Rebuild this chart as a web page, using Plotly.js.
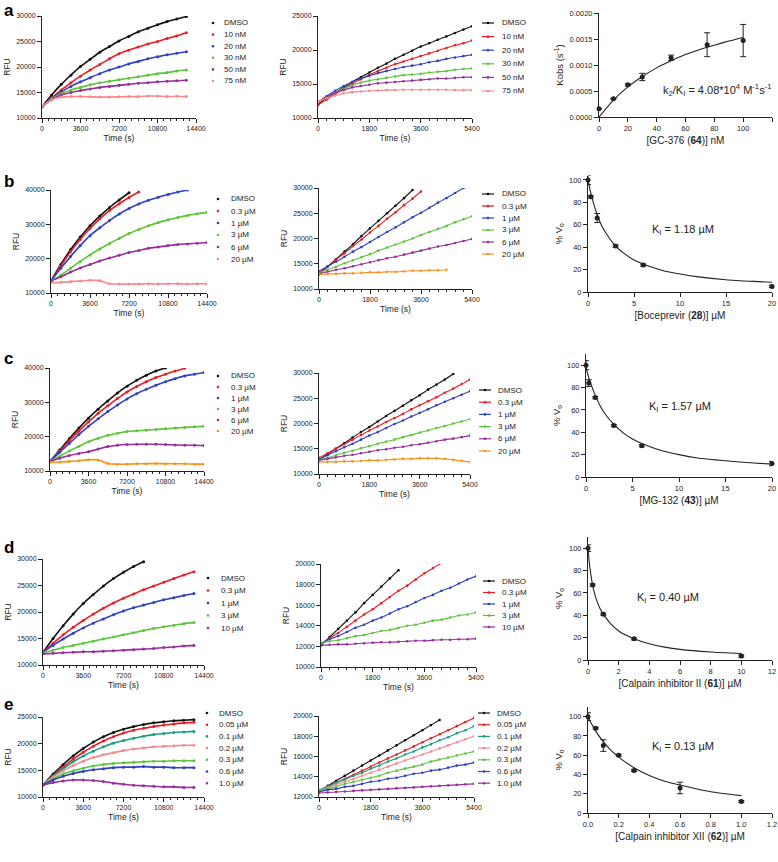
<!DOCTYPE html>
<html><head><meta charset="utf-8">
<script src="https://cdn.plot.ly/plotly-3.0.1.min.js"></script>
<style>body{margin:0;background:#fff}#chart{width:778px;height:862px}</style>
</head><body><div id="chart"></div>
<script>
const W=778,H=862;
const F='Liberation Sans, Arial, Helvetica, sans-serif';
const TXT='#222';

// ---------- time grids (s) ----------
const tLong=[0,900,1800,2700,3600,4500,5400,6300,7200,8100,9000,9900,10800,11700,12600,13500,14400];
const tShort=[0,300,600,900,1200,1500,1800,2100,2400,2700,3000,3300,3600,3900,4200,4500,4800,5100,5400];

// ---------- labels ----------
const aLabels=['DMSO','10 nM','20 nM','30 nM','50 nM','75 nM'];
const bLabels=['DMSO','0.3 µM','1 µM','3 µM','6 µM','20 µM'];
const dLabels=['DMSO','0.3 µM','1 µM','3 µM','10 µM'];
const eLabels=['DMSO','0.05 µM','0.1 µM','0.2 µM','0.3 µM','0.6 µM','1.0 µM'];

// ---------- colours ----------
const cBlack='#111111',cRed='#ea1c24',cBlue='#3040c4',cGreen='#5cc43a',cPurple='#9a2c9e',cPink='#f48a90',cOrange='#f7941e',cTeal='#16a07c';

// ---------- row a ----------
const aL_DMSO=[12200,14500,16600,18400,20100,21500,22900,24000,25100,26000,26900,27600,28300,28900,29400,29900];
const aL_10=[12200,13900,15500,16900,18200,19400,20500,21600,22600,23300,23900,24500,25000,25600,26100,26700];
const aL_20=[12200,13800,15100,16200,17100,17900,18700,19400,20000,20600,21100,21600,22000,22400,22700,23000];
const aL_30=[12200,13700,14800,15500,16000,16500,16900,17200,17500,17800,18100,18400,18700,18900,19200,19400];
const aL_50=[12200,13600,14500,15000,15400,15700,16000,16200,16400,16600,16800,16900,17100,17200,17300,17400];
const aL_75=[12200,13600,14100,14200,14200,14150,14100,14100,14150,14200,14200,14300,14300,14200,14250,14200];

const aM_DMSO=[12000,12900,13700,14500,15300,16000,16700,17400,18000,18700,19300,19900,20500,21000,21500,22000,22500,23000,23500];
const aM_10=[11900,12700,13500,14300,15000,15700,16400,16900,17400,17900,18300,18700,19100,19500,19900,20300,20700,21000,21400];
const aM_20=[12300,13200,14000,14700,15300,15800,16200,16600,16900,17200,17500,17700,17900,18200,18400,18700,18900,19100,19300];
const aM_30=[12300,13000,13700,14300,14800,15200,15500,15700,15900,16100,16300,16400,16500,16700,16800,16900,17100,17200,17300];
const aM_50=[12400,13100,13700,14100,14500,14700,14900,15100,15200,15300,15400,15500,15600,15700,15800,15800,15900,16000,16000];
const aM_75=[12400,12900,13300,13600,13800,13900,14000,14050,14100,14100,14150,14150,14150,14150,14150,14150,14100,14100,14100];

const aR_conc=[0,10,20,30,50,75,100];
const aR_kobs=[0.00016,0.00035,0.00062,0.00077,0.00114,0.00139,0.00147];
const aR_err=[0,0,0.00002,0.00007,0.00005,0.00023,0.00031];
const aR_fitX=[0,10,20,30,40,50,60,70,80,90,100];
const aR_fitY=[0,0.000325,0.000578,0.00078,0.000945,0.00108,0.0012,0.0013,0.00138,0.00146,0.00153];

// ---------- row b ----------
const bL_DMSO=[13500,18300,22600,26300,29600,32400,34900,37100,39200];
const bL_03=[13500,17900,22000,25600,28800,31600,34000,36000,37800,39400];
const bL_1=[13500,17200,20600,23800,26700,29000,31100,33000,34600,35900,37000,37900,38700,39400,40000];
const bL_3=[13500,15200,17200,19200,21100,22800,24400,25900,27300,28500,29600,30500,31300,32000,32600,33100,33500];
const bL_6=[13500,14700,16100,17300,18300,19300,20200,21000,21800,22400,23000,23400,23800,24100,24300,24500,24700];
const bL_20=[13000,13100,13300,13500,13700,13600,12700,12600,12600,12600,12700,12600,12700,12700,12600,12700,12700];

const bM_DMSO=[12900,14400,15900,17400,18900,20500,22000,23500,25000,26500,28000,29600];
const bM_03=[13100,14400,15800,17100,18500,19800,21200,22500,23900,25200,26600,27900,29300];
const bM_1=[13500,14500,15400,16400,17400,18300,19300,20300,21300,22200,23200,24200,25100,26100,27100,28000,29000,30000];
const bM_3=[13200,13800,14400,15100,15700,16300,16900,17600,18200,18800,19400,20000,20700,21300,21900,22500,23200,23800,24400];
const bM_6=[13000,13400,13800,14100,14500,14900,15300,15700,16100,16400,16800,17200,17600,18000,18400,18700,19100,19500,19900];
const bM_20=[12900,13000,13000,13100,13100,13200,13300,13300,13400,13400,13500,13600,13600,13700,13700,13800];

const bR_conc=[0,0.3,1,3,6,20];
const bR_v=[100,85,66,41,24,5];
const bR_err=[4,1,4,1,1,1];
const bR_fitX=[0,0.25,0.5,1,1.5,2,3,4,5,6,8,10,12,15,18,20];
const bR_fitY=[100,90,82,69,59,52,41,34,28.5,25,19.5,16,13.5,11,9.5,8.7];

// ---------- row c ----------
const cL_DMSO=[12800,16100,19400,22500,25400,28000,30400,32700,34700,36400,37900,39100,40000];
const cL_03=[12800,15800,18800,21600,24300,26800,29000,31100,33000,34600,36000,37200,38200,39100,39900];
const cL_1=[12800,15400,18000,20600,23000,25200,27300,29200,31000,32500,33800,35000,36000,36900,37700,38200,38700];
const cL_3=[12800,14300,15800,17200,18500,19500,20400,21000,21500,21700,21900,22100,22300,22500,22700,22900,23000];
const cL_6=[12800,13700,14500,15100,15600,16400,17100,17500,17700,17800,17800,17800,17700,17600,17500,17500,17400];
const cL_20=[12500,12600,12800,13000,13300,13200,12200,12000,12000,12100,12100,12200,12100,12100,12100,12000,12000];

const cM_DMSO=[12800,13900,15000,16100,17200,18300,19300,20400,21500,22500,23500,24600,25600,26700,27700,28700,29800];
const cM_03=[13200,14100,15000,15900,16800,17700,18600,19400,20300,21100,21900,22800,23600,24400,25200,26100,26900,27800,28700];
const cM_1=[12900,13700,14500,15300,16000,16800,17600,18300,19100,19900,20600,21400,22100,22800,23600,24300,25000,25700,26400];
const cM_3=[12800,13200,13700,14200,14600,15100,15500,16000,16400,16800,17300,17700,18200,18600,19100,19500,20000,20400,20900];
const cM_6=[12700,13000,13300,13600,13800,14100,14400,14700,14900,15200,15400,15700,15900,16200,16500,16800,17000,17300,17600];
const cM_20=[12400,12400,12400,12500,12500,12600,12700,12700,12800,12900,13000,13000,13100,13100,13100,13000,12800,12600,12400];

const cR_conc=[0,0.3,1,3,6,20];
const cR_v=[100,84,71,46,28,12];
const cR_err=[4,3,1,1,1,2];
const cR_fitX=[0,0.25,0.5,1,1.5,2,3,4,5,6,8,10,12,15,18,20];
const cR_fitY=[98,90,84,73,64,57,47,39.5,34,30,24,20,17,14.5,12.5,11.5];

// ---------- row d ----------
const dL_DMSO=[12400,15000,17400,19600,21600,23300,24900,26300,27500,28600,29500];
const dL_03=[12400,14100,15700,17100,18400,19600,20700,21700,22600,23400,24200,24900,25600,26300,27000,27600];
const dL_1=[12400,13700,14900,16000,17000,17900,18700,19500,20200,20800,21300,21800,22300,22700,23100,23500];
const dL_3=[12300,12800,13300,13700,14100,14500,14900,15300,15700,16100,16500,16900,17200,17500,17800,18000];
const dL_10=[12100,12200,12300,12400,12500,12500,12600,12700,12800,12900,13000,13100,13300,13400,13600,13700];

const dM_DMSO=[12100,12900,13700,14500,15300,16200,17000,17800,18600,19400];
const dM_03=[12200,12800,13300,13900,14500,15100,15600,16200,16800,17400,17900,18500,19100,19600,20100];
const dM_1=[12300,12700,13000,13400,13800,14100,14500,14800,15200,15600,15900,16300,16700,17000,17400,17700,18100,18500,18800];
const dM_3=[12300,12500,12600,12800,13000,13100,13300,13500,13600,13800,14000,14100,14300,14500,14600,14800,15000,15100,15300];
const dM_10=[12100,12150,12200,12200,12250,12300,12350,12400,12400,12450,12500,12550,12550,12600,12650,12650,12700,12700,12750];

const dR_conc=[0,0.3,1,3,10];
const dR_v=[100,67,41,19,3.5];
const dR_err=[3,1,1,1,1];
const dR_fitX=[0,0.1,0.2,0.3,0.5,0.75,1,1.5,2,3,4,5,6,8,10];
const dR_fitY=[100,85,75,67,56,47,41,32,26,19,14.5,11.5,9.5,7.2,5.8];

// ---------- row e ----------
const eL_DMSO=[12300,14300,16100,17700,19100,20300,21300,22100,22700,23200,23600,23900,24100,24300,24400,24500];
const eL_005=[12300,14000,15600,17100,18400,19500,20500,21300,22000,22500,22900,23200,23500,23700,23900,24000];
const eL_01=[12300,13900,15300,16600,17700,18600,19400,20100,20600,21000,21400,21700,21900,22100,22200,22300];
const eL_02=[12300,13700,14900,15900,16700,17400,17900,18300,18700,19000,19200,19400,19500,19600,19700,19700];
const eL_03=[12300,13400,14300,14900,15400,15800,16100,16300,16400,16500,16600,16700,16700,16800,16800,16800];
const eL_06=[12300,13200,13900,14400,14800,15100,15300,15500,15600,15600,15700,15600,15600,15500,15500,15500];
const eL_10=[12300,12700,13000,13200,13200,13100,12900,12600,12400,12200,12100,12000,11900,11900,11800,11800];

const eM_DMSO=[12600,13100,13600,14100,14600,15100,15600,16100,16600,17100,17600,18100,18600,19100,19600];
const eM_005=[12600,13000,13400,13800,14200,14600,15000,15400,15800,16200,16600,17000,17400,17800,18200,18600,19000,19400,19800];
const eM_01=[12700,13000,13400,13700,14100,14400,14800,15100,15500,15800,16200,16500,16900,17200,17600,17900,18300,18600,19000];
const eM_02=[12600,12900,13200,13500,13800,14100,14400,14700,15000,15300,15600,15900,16200,16500,16800,17100,17400,17700,18000];
const eM_03=[12600,12800,13000,13300,13500,13700,13900,14100,14400,14600,14800,15000,15200,15500,15700,15900,16100,16300,16500];
const eM_06=[12500,12700,12800,13000,13100,13300,13500,13600,13800,13900,14100,14300,14400,14600,14700,14900,15100,15200,15400];
const eM_10=[12400,12450,12500,12550,12600,12650,12700,12750,12800,12850,12900,12950,13000,13050,13100,13150,13200,13250,13300];

const eR_conc=[0,0.05,0.1,0.2,0.3,0.6,1.0];
const eR_v=[100,88,70,60,44,26,12];
const eR_err=[4,1,6,1,1,6,1];
const eR_fitX=[0,0.025,0.05,0.1,0.15,0.2,0.3,0.4,0.5,0.6,0.8,1.0];
const eR_fitY=[100,92,85,74,65,58,47,39,33,29,22,18];

// ================= building =================
const traces=[],shapes=[],ann=[];
const layout={width:W,height:H,margin:{l:0,r:0,t:0,b:0},paper_bgcolor:'#fff',plot_bgcolor:'rgba(0,0,0,0)',
  showlegend:false,font:{family:F,color:TXT,size:9},hovermode:false};
let n=0;
function px(x){return x/W;} function py(y){return 1-y/H;}
function baseAxis(fs){return {showline:true,linecolor:TXT,linewidth:1,ticks:'outside',ticklen:4,tickwidth:1,tickcolor:TXT,
  showgrid:false,zeroline:false,fixedrange:true,tick0:0,tickfont:{size:fs,family:F,color:TXT}};}
function addAxes(b,fs,xo,yo){
  n++; const s=n===1?'':String(n);
  layout['xaxis'+s]=Object.assign(baseAxis(fs),{domain:[px(b[0]),px(b[1])],anchor:'y'+s},xo);
  layout['yaxis'+s]=Object.assign(baseAxis(fs),{domain:[py(b[3]),py(b[2])],anchor:'x'+s},yo);
  return {xa:'x'+s,ya:'y'+s};
}
function kinetic(b,t,series,colors,xr,yr,xd,yd,minor,style){
  const a=addAxes(b,7,
    {range:xr,dtick:xd,tickformat:'d',minor:{dtick:minor,ticks:'outside',ticklen:2,tickcolor:TXT,tickwidth:1},
     title:{text:'Time (s)',font:{size:8.5,family:F,color:TXT},standoff:3}},
    {range:yr,dtick:yd,tickformat:'d',title:{text:'RFU',font:{size:8.5,family:F,color:TXT},standoff:4}});
  series.forEach((ys,i)=>{
    if(style==='left'){
      traces.push({x:t,y:ys,xaxis:a.xa,yaxis:a.ya,mode:'lines',line:{color:colors[i],width:1.6,shape:'spline',smoothing:0.8}});
      traces.push({x:t,y:ys,xaxis:a.xa,yaxis:a.ya,mode:'markers',marker:{color:colors[i],size:3}});
    } else {
      traces.push({x:t,y:ys,xaxis:a.xa,yaxis:a.ya,mode:'lines+markers',line:{color:colors[i],width:1.1,shape:'spline',smoothing:0.6},marker:{color:colors[i],size:2.6}});
    }
  });
}
function legend(items,colors,lx,tx,y0,dy,kind){
  items.forEach((lab,i)=>{
    const y=y0+i*dy;
    if(kind==='line') shapes.push({type:'line',xref:'paper',yref:'paper',x0:px(lx-6),x1:px(lx+6),y0:py(y),y1:py(y),line:{color:colors[i],width:1.2}});
    shapes.push({type:'circle',xref:'paper',yref:'paper',x0:px(lx-1.3),x1:px(lx+1.3),y0:py(y+1.3),y1:py(y-1.3),fillcolor:colors[i],line:{width:0}});
    ann.push({xref:'paper',yref:'paper',x:px(tx),y:py(y),xanchor:'left',yanchor:'middle',text:lab,showarrow:false,font:{size:8,color:TXT,family:F}});
  });
}
function doseResp(b,xr,yr,xd,yd,xfmt,yfmt,xt,yt,conc,v,err,fx,fy,note,nx,ny){
  const a=addAxes(b,7.5,
    {range:xr,dtick:xd,tickformat:xfmt||'d',title:{text:xt,font:{size:10,family:F,color:TXT},standoff:4}},
    {range:yr,dtick:yd,tickformat:yfmt||'d',title:{text:yt,font:{size:9.5,family:F,color:TXT},standoff:4}});
  traces.push({x:fx,y:fy,xaxis:a.xa,yaxis:a.ya,mode:'lines',line:{color:TXT,width:1.1,shape:'spline',smoothing:0.5}});
  traces.push({x:conc,y:v,xaxis:a.xa,yaxis:a.ya,mode:'markers',cliponaxis:false,marker:{color:TXT,size:5},
    error_y:{type:'data',array:err,visible:true,color:TXT,thickness:1,width:3}});
  ann.push({xref:'paper',yref:'paper',x:px(nx),y:py(ny),xanchor:'center',yanchor:'middle',text:note,showarrow:false,font:{size:11,family:F,color:TXT}});
}
function letter(t,x,y){ann.push({xref:'paper',yref:'paper',x:px(x),y:py(y),xanchor:'left',yanchor:'middle',text:'<b>'+t+'</b>',showarrow:false,font:{size:17,family:F,color:'#000'}});}

const colA=[cBlack,cRed,cBlue,cGreen,cPurple,cPink];
const colBL=[cBlack,cRed,cBlue,cGreen,cPurple,cPink];
const colBM=[cBlack,cRed,cBlue,cGreen,cPurple,cOrange];
const colC=[cBlack,cRed,cBlue,cGreen,cPurple,cOrange];
const colD=[cBlack,cRed,cBlue,cGreen,cPurple];
const colE=[cBlack,cRed,cTeal,cPink,cGreen,cBlue,cPurple];

// row a
kinetic([42,196,16,118],tLong,[aL_DMSO,aL_10,aL_20,aL_30,aL_50,aL_75],colA,[0,14400],[10000,30000],3600,5000,600,'left');
legend(aLabels,colA,213,222,23,11.6,'dot');
kinetic([318,472,16,118],tShort,[aM_DMSO,aM_10,aM_20,aM_30,aM_50,aM_75],colA,[0,5400],[10000,25000],1800,5000,300,'mid');
legend(aLabels,colA,488,500,23,13.6,'line');
doseResp([599,772,13,117],[0,120],[0,0.002],20,0.0005,'','.4f','[GC-376 (<b>64</b>)] nM','Kobs (s<sup>-1</sup>)',
  aR_conc,aR_kobs,aR_err,aR_fitX,aR_fitY,'k<sub>2</sub>/K<sub>I</sub> = 4.08*10<sup>4</sup> M<sup>-1</sup>s<sup>-1</sup>',717,90);
letter('a',2,11);

// row b
kinetic([51,207,190,293],tLong,[bL_DMSO,bL_03,bL_1,bL_3,bL_6,bL_20],colBL,[0,14400],[10000,40000],3600,10000,600,'left');
legend(bLabels,colBL,218,229,199,12,'dot');
kinetic([319,472,188,289],tShort,[bM_DMSO,bM_03,bM_1,bM_3,bM_6,bM_20],colBM,[0,5400],[10000,30000],1800,5000,300,'mid');
legend(bLabels,colBM,488,500,194,12,'line');
doseResp([588,772,175.5,292],[0,20],[0,104],5,20,'','','[Boceprevir (<b>28</b>)] µM','% V<sub>o</sub>',
  bR_conc,bR_v,bR_err,bR_fitX,bR_fitY,'K<sub>I</sub> = 1.18 µM',683,230);
letter('b',2,181);

// row c
kinetic([50,204,368,471],tLong,[cL_DMSO,cL_03,cL_1,cL_3,cL_6,cL_20],colC,[0,14400],[10000,40000],3600,10000,600,'left');
legend(bLabels,colC,218,229,376,11,'dot');
kinetic([319,470,373,474],tShort,[cM_DMSO,cM_03,cM_1,cM_3,cM_6,cM_20],colC,[0,5400],[10000,30000],1800,5000,300,'mid');
legend(bLabels,colC,485,496,390,12.2,'line');
doseResp([586,772,354,477],[0,20],[0,110],5,20,'','','[MG-132 (<b>43</b>)] µM','% V<sub>o</sub>',
  cR_conc,cR_v,cR_err,cR_fitX,cR_fitY,'K<sub>I</sub> = 1.57 µM',680,407);
letter('c',2,358);

// row d
kinetic([43,204,559,665],tLong,[dL_DMSO,dL_03,dL_1,dL_3,dL_10],colD,[0,14400],[10000,30000],3600,5000,600,'left');
legend(dLabels,colD,208,219,578,12.5,'dot');
kinetic([321,476,564,667],tShort,[dM_DMSO,dM_03,dM_1,dM_3,dM_10],colD,[0,5400],[10000,20000],1800,2000,300,'mid');
legend(dLabels,colD,489,500,581,11.5,'line');
doseResp([588,772,537,660],[0,12],[0,110],2,20,'','','[Calpain inhibitor II (<b>61</b>)] µM','% V<sub>o</sub>',
  dR_conc,dR_v,dR_err,dR_fitX,dR_fitY,'K<sub>I</sub> = 0.40 µM',668,598);
letter('d',2,547);

// row e
kinetic([43,204,717,797],tLong,[eL_DMSO,eL_005,eL_01,eL_02,eL_03,eL_06,eL_10],colE,[0,14400],[10000,25000],3600,5000,600,'left');
legend(eLabels,colE,207,217,713,11.7,'dot');
kinetic([319,474,716,797],tShort,[eM_DMSO,eM_005,eM_01,eM_02,eM_03,eM_06,eM_10],colE,[0,5400],[12000,20000],1800,2000,300,'mid');
legend(eLabels,colE,484,495,713,11.7,'line');
doseResp([588,772,707,813],[0,1.2],[0,110],0.2,20,'.1f','','[Calpain inhibitor XII (<b>62</b>)] µM','% V<sub>o</sub>',
  eR_conc,eR_v,eR_err,eR_fitX,eR_fitY,'K<sub>I</sub> = 0.13 µM',683,747);
letter('e',2,704);

layout.shapes=shapes; layout.annotations=ann;
Plotly.newPlot('chart',traces,layout,{staticPlot:true,displayModeBar:false});
</script></body></html>
